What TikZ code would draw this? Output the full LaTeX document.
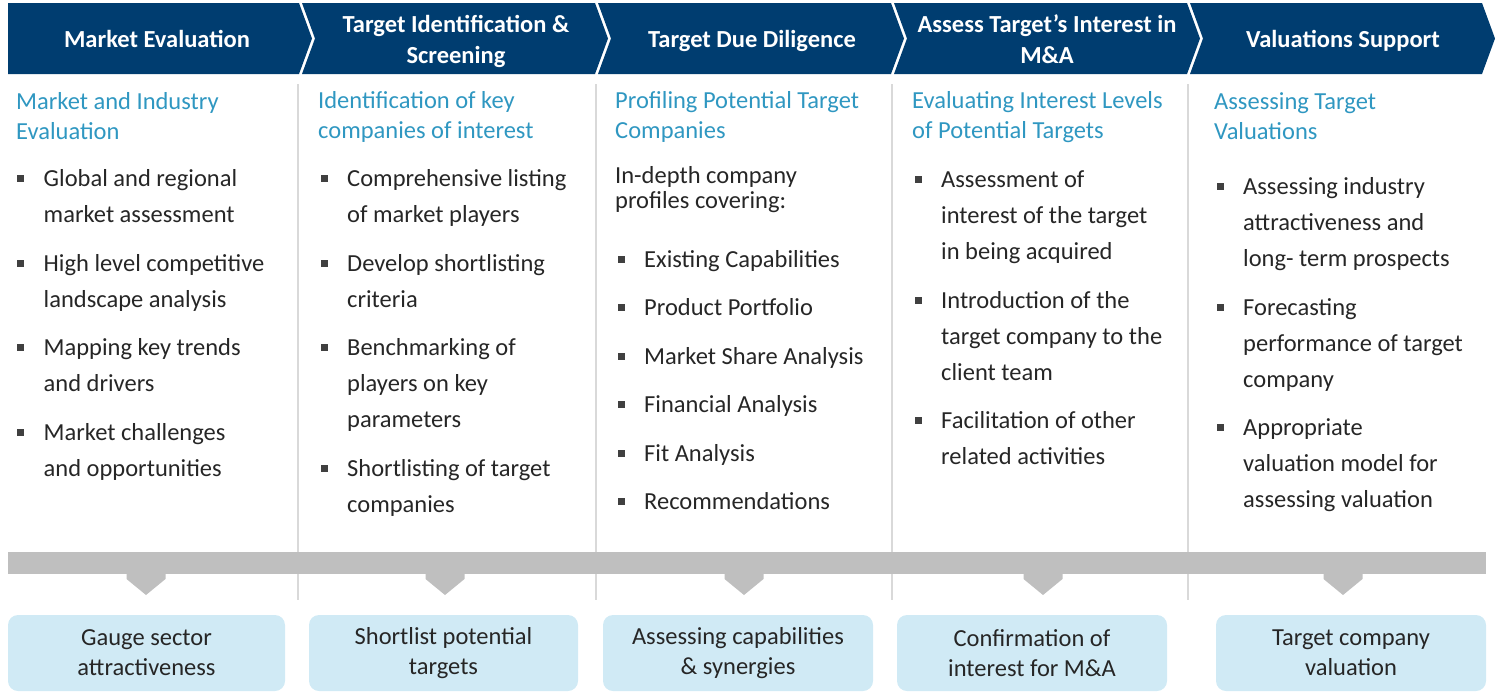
\documentclass[tikz,border=0pt]{standalone}
\usepackage{fontspec}
\setmainfont{Carlito}
\usepackage{xcolor}
\usetikzlibrary{positioning}

\definecolor{navy}{RGB}{0,61,112}
\definecolor{subblue}{RGB}{47,151,193}
\definecolor{boxblue}{RGB}{208,234,245}
\definecolor{bartgray}{RGB}{191,191,191}
\definecolor{sepgray}{RGB}{217,217,217}
\definecolor{txtgray}{RGB}{38,38,38}
\definecolor{bulgray}{RGB}{64,64,64}

\begin{document}
\begin{tikzpicture}[
    x=1pt, y=-1pt,
    head/.style={anchor=base, align=center, text=white, inner sep=0,
                 font=\fontsize{24.5}{30.5}\selectfont\bfseries},
    sub/.style={anchor=base west, align=left, inner sep=0, text=subblue,
                font=\fontsize{24.5}{30}\selectfont},
    item/.style={anchor=base west, align=left, inner sep=0, text=txtgray,
                 font=\fontsize{24.5}{36}\selectfont},
    intro/.style={item, font=\fontsize{24.5}{25}\selectfont},
    result/.style={rounded corners=10pt, fill=boxblue, align=center,
                   minimum height=76pt, inner sep=0, text=txtgray,
                   font=\fontsize{24.5}{30}\selectfont}
]
\useasboundingbox (0,0) rectangle (1495,697);

% header chevrons
\fill[navy] (8,3) -- (299,3) -- (312,38.5) -- (299,74) -- (8,74) -- cycle;
\foreach \l/\r in {302/595, 598/891, 894/1187, 1190/1482}
  \fill[navy] (\l,3) -- (\r,3) -- (\r+13,38.5) -- (\r,74) -- (\l,74)
              -- (\l+13,38.5) -- cycle;
\node[head] (h1) at (157,47) {Market Evaluation};
\node[head] (h2) at (456,63) {Target Identification \&\\Screening};
\node[head] (h3) at (752,47) {Target Due Diligence};
\node[head] (h4) at (1047,63) {Assess Target’s Interest in\\M\&A};
\node[head] (h5) at (1343,47) {Valuations Support};

% column separators
\foreach \x in {298,596,892,1188}
  \draw[sepgray, line width=1.2pt] (\x,84) -- (\x,600);

% Market Evaluation (nodes sit on the baseline of their last line)
\node[sub] (s1) at (16,139) {Market and Industry\\Evaluation};
\node[item] (c1a) at (43.5,222) {Global and regional\\market assessment};
\node[item] (c1b) at (43.5,307) {High level competitive\\landscape analysis};
\node[item] (c1c) at (43.5,391) {Mapping key trends\\and drivers};
\node[item] (c1d) at (43.5,476) {Market challenges\\and opportunities};

% Target Identification & Screening
\node[sub] (s2) at (318,138) {Identification of key\\companies of interest};
\node[item] (c2a) at (347,222) {Comprehensive listing\\of market players};
\node[item] (c2b) at (347,307) {Develop shortlisting\\criteria};
\node[item] (c2c) at (347,427) {Benchmarking of\\players on key\\parameters};
\node[item] (c2d) at (347,512) {Shortlisting of target\\companies};

% Target Due Diligence
\node[sub] (s3) at (615,138) {Profiling Potential Target\\Companies};
\node[intro] (i3) at (615,208) {In-depth company\\profiles covering:};
\node[item] (c3a) at (644,267) {Existing Capabilities};
\node[item] (c3b) at (644,315) {Product Portfolio};
\node[item] (c3c) at (644,364) {Market Share Analysis};
\node[item] (c3d) at (644,412) {Financial Analysis};
\node[item] (c3e) at (644,461) {Fit Analysis};
\node[item] (c3f) at (644,509) {Recommendations};

% Assess Target's Interest in M&A
\node[sub] (s4) at (912,138) {Evaluating Interest Levels\\of Potential Targets};
\node[item] (c4a) at (941,259) {Assessment of\\interest of the target\\in being acquired};
\node[item] (c4b) at (941,380) {Introduction of the\\target company to the\\client team};
\node[item] (c4c) at (941,464) {Facilitation of other\\related activities};

% Valuations Support
\node[sub] (s5) at (1214,139) {Assessing Target\\Valuations};
\node[item] (c5a) at (1243,266) {Assessing industry\\attractiveness and\\long- term prospects};
\node[item] (c5b) at (1243,387) {Forecasting\\performance of target\\company};
\node[item] (c5c) at (1243,507) {Appropriate\\valuation model for\\assessing valuation};

% bullet squares, level with the first line
\foreach \n/\k in {c1a/1,c1b/1,c1c/1,c1d/1,c2a/1,c2b/1,c2c/2,c2d/1,
                   c3a/0,c3b/0,c3c/0,c3d/0,c3e/0,c3f/0,
                   c4a/2,c4b/2,c4c/1,c5a/2,c5b/2,c5c/2}
  \fill[bulgray] ([xshift=-26.5pt,yshift=4pt+\k*36pt]\n.base west)
                 rectangle ++(7,-7);

% gray bar and arrows
\fill[bartgray] (8,552) rectangle (1486,574);
\foreach \c in {146,445,744,1043,1343}
  \fill[bartgray] (\c-19.5,574) -- (\c+19.5,574) -- (\c+19.5,579)
                  -- (\c,595) -- (\c-19.5,579) -- cycle;

% outcome boxes
\node[result, minimum width=277pt] (o1) at (146.5,653) {Gauge sector\\attractiveness};
\node[result, minimum width=269pt] (o2) at (443.5,653) {Shortlist potential\\targets};
\node[result, minimum width=270pt] (o3) at (738,653) {Assessing capabilities\\\& synergies};
\node[result, minimum width=270pt] (o4) at (1032,653) {Confirmation of\\interest for M\&A};
\node[result, minimum width=270pt] (o5) at (1351,653) {Target company\\valuation};
\end{tikzpicture}
\end{document}
